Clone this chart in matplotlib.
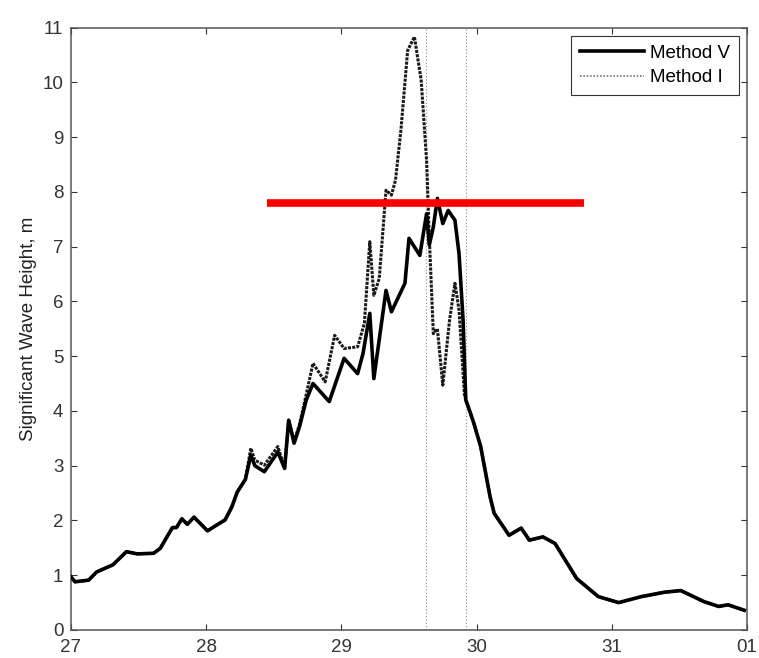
import matplotlib
matplotlib.use("Agg")
import matplotlib.pyplot as plt
from matplotlib.lines import Line2D

plt.rcParams['font.family'] = ['Liberation Sans', 'DejaVu Sans']

# Shared rising segment (both methods coincide)
rise_days = [27.0, 27.03, 27.13, 27.19, 27.31, 27.41, 27.49, 27.61, 27.66, 27.75, 27.78,
             27.82, 27.86, 27.91, 28.01, 28.08, 28.14, 28.19, 28.23, 28.29]
rise_hs = [0.97, 0.88, 0.91, 1.06, 1.19, 1.43, 1.39, 1.40, 1.49, 1.87, 1.87,
           2.03, 1.93, 2.06, 1.81, 1.92, 2.01, 2.25, 2.52, 2.75]

# Storm peak, Method V
peak_days_v = [28.33, 28.36, 28.43, 28.53, 28.58, 28.61, 28.65, 28.69, 28.74, 28.79, 28.91,
               29.02, 29.12, 29.16, 29.21, 29.24, 29.33, 29.37, 29.47, 29.50, 29.58,
               29.63, 29.65, 29.68, 29.71, 29.75, 29.79, 29.84, 29.87, 29.90, 29.92]
peak_hs_v = [3.19, 3.0, 2.89, 3.25, 2.95, 3.83, 3.41, 3.71, 4.2, 4.5, 4.17,
             4.96, 4.68, 5.05, 5.78, 4.59, 6.2, 5.81, 6.33, 7.15, 6.84,
             7.6, 7.03, 7.36, 7.88, 7.42, 7.66, 7.48, 6.87, 5.66, 4.2]

# Storm peak, Method I
peak_days_i = [28.33, 28.36, 28.43, 28.53, 28.58, 28.61, 28.65, 28.69, 28.74, 28.79, 28.88,
               28.95, 29.02, 29.12, 29.17, 29.21, 29.24, 29.28, 29.33, 29.37, 29.40,
               29.44, 29.49, 29.54, 29.59, 29.63, 29.65, 29.68, 29.71, 29.75, 29.80,
               29.84, 29.87, 29.91, 29.92]
peak_hs_i = [3.32, 3.1, 3.01, 3.35, 2.95, 3.83, 3.45, 3.75, 4.3, 4.87, 4.53,
             5.38, 5.14, 5.17, 5.6, 7.09, 6.11, 6.42, 8.03, 7.94, 8.21,
             9.12, 10.58, 10.83, 10.04, 8.58, 7.18, 5.41, 5.5, 4.47, 5.66,
             6.33, 5.84, 4.3, 4.2]

# Shared decay segment
decay_days = [29.96, 29.98, 30.03, 30.10, 30.13, 30.24, 30.33, 30.39, 30.49, 30.58,
              30.74, 30.90, 31.05, 31.22, 31.39, 31.51, 31.68, 31.79, 31.86, 31.98]
decay_hs = [3.92, 3.77, 3.35, 2.43, 2.13, 1.73, 1.86, 1.64, 1.70, 1.58,
            0.94, 0.61, 0.50, 0.61, 0.69, 0.72, 0.52, 0.43, 0.46, 0.36]

vlines_days = [29.626, 29.918]
threshold_hs = 7.8
threshold_days = [28.447, 30.796]

x_ticks = [27, 28, 29, 30, 31, 32]
x_ticklabels = ['27', '28', '29', '30', '31', '01']
y_ticks = list(range(0, 12))

days_v = rise_days + peak_days_v + decay_days
hs_v = rise_hs + peak_hs_v + decay_hs
days_i = rise_days + peak_days_i + decay_days
hs_i = rise_hs + peak_hs_i + decay_hs

FS = 13.5

fig = plt.figure(figsize=(7.59, 6.58), dpi=100)
ax = fig.add_axes([71 / 759, 1 - 630 / 658, (747 - 71) / 759, (630 - 27.5) / 658])

for xv in vlines_days:
    ax.axvline(xv, color='#8a8a8a', lw=0.8, ls=(0, (1, 2)), zorder=1)

ax.plot(days_i, hs_i, color='#1a1a1a', lw=2.2, ls=(0, (1, 0.4)), zorder=2)
ax.plot(days_v, hs_v, color='black', lw=2.6, zorder=3)

ax.plot(threshold_days, [threshold_hs, threshold_hs], color='#ff0000', lw=5.5,
        solid_capstyle='butt', zorder=4)

ax.set_xlim(27, 32)
ax.set_ylim(0, 11)
ax.set_xticks(x_ticks)
ax.set_xticklabels(x_ticklabels)
ax.set_yticks(y_ticks)
ax.tick_params(direction='in', top=True, right=True, length=4, width=0.8,
               labelsize=FS, colors='#333333')
ax.tick_params(axis='x', pad=6.5)
ax.tick_params(axis='y', pad=5.5)
for s in ax.spines.values():
    s.set_color('#555555')
    s.set_linewidth(1.1)

ax.set_ylabel('Significant Wave Height, m', fontsize=FS, color='#222222', labelpad=4)

legend_handles = [
    Line2D([], [], color='black', lw=2.6),
    Line2D([], [], color='#777777', lw=1.2, ls=(0, (1, 1))),
]
leg = ax.legend(legend_handles, ['Method V', 'Method I'], loc='upper right', fontsize=FS,
                fancybox=False, edgecolor='#333333', framealpha=1,
                handlelength=3.4, borderaxespad=0.45, borderpad=0.45,
                labelspacing=0.4, handletextpad=0.35)
leg.get_frame().set_linewidth(0.8)

fig.savefig('out.png', dpi=100)
